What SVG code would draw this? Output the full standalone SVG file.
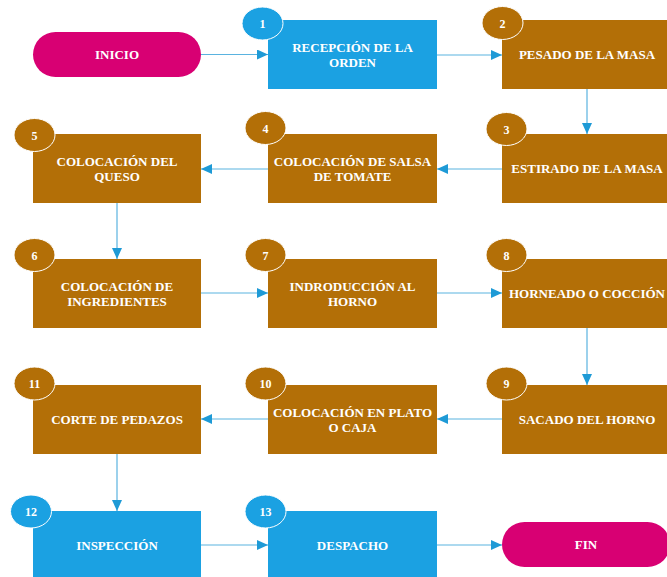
<svg xmlns="http://www.w3.org/2000/svg" width="667" height="577" viewBox="0 0 667 577">
<defs>
<marker id="ah" markerUnits="userSpaceOnUse" markerWidth="11" markerHeight="10" refX="11" refY="5" orient="auto">
<path d="M0,0 L11,5 L0,10 z" fill="#1e9ad6"/>
</marker>
<style>
.blue{fill:#1ba1e2}
.brown{fill:#b36f07}
.pink{fill:#d80073}
.badge{stroke:#ffffff;stroke-width:1}
.t{font-family:"Liberation Serif","Times New Roman",serif;font-weight:bold;font-size:13px;fill:#ffffff;text-anchor:middle}
.n{font-family:"Liberation Serif","Times New Roman",serif;font-weight:bold;font-size:12px;fill:#ffffff;text-anchor:middle}
.c{stroke:#5ab3e0;stroke-width:1.2;fill:none;marker-end:url(#ah)}
</style>
</defs>
<rect width="667" height="577" fill="#ffffff"/>
<g id="connectors">
<line class="c" x1="201" y1="54.5" x2="268" y2="54.5"/>
<line class="c" x1="437" y1="55" x2="502" y2="55"/>
<line class="c" x1="587" y1="89" x2="587" y2="134"/>
<line class="c" x1="502" y1="169" x2="437" y2="169"/>
<line class="c" x1="268" y1="169" x2="201" y2="169"/>
<line class="c" x1="117" y1="202" x2="117" y2="259"/>
<line class="c" x1="201" y1="293" x2="268" y2="293"/>
<line class="c" x1="437" y1="293" x2="502" y2="293"/>
<line class="c" x1="587" y1="328" x2="587" y2="385"/>
<line class="c" x1="502" y1="419" x2="437" y2="419"/>
<line class="c" x1="268" y1="419" x2="201" y2="419"/>
<line class="c" x1="117" y1="454" x2="117" y2="511"/>
<line class="c" x1="201" y1="545" x2="268" y2="545"/>
<line class="c" x1="437" y1="545" x2="502" y2="545"/>
</g>
<g id="inicio">
<rect class="pink" x="33" y="32" width="168" height="45" rx="22.5"/>
<text class="t" x="117" y="59">INICIO</text>
</g>
<g id="n1">
<rect class="blue" x="268" y="20" width="169" height="69"/>
<ellipse class="blue badge" cx="262.5" cy="23.5" rx="20.5" ry="16.5"/>
<text class="n" x="262.5" y="28">1</text>
<text class="t" x="352.5" y="52">RECEPCIÓN DE LA</text>
<text class="t" x="352.5" y="67">ORDEN</text>
</g>
<g id="n2">
<rect class="brown" x="502" y="20" width="170" height="69"/>
<ellipse class="brown badge" cx="502.5" cy="23" rx="20.5" ry="16.5"/>
<text class="n" x="502.5" y="27.5">2</text>
<text class="t" x="587" y="59">PESADO DE LA MASA</text>
</g>
<g id="n3">
<rect class="brown" x="502" y="134" width="170" height="69"/>
<ellipse class="brown badge" cx="506.5" cy="129" rx="20.5" ry="16.5"/>
<text class="n" x="506.5" y="133.5">3</text>
<text class="t" x="587" y="173">ESTIRADO DE LA MASA</text>
</g>
<g id="n4">
<rect class="brown" x="268" y="134" width="169" height="69"/>
<ellipse class="brown badge" cx="265.5" cy="128" rx="20.5" ry="16.5"/>
<text class="n" x="265.5" y="132.5">4</text>
<text class="t" x="352.5" y="166">COLOCACIÓN DE SALSA</text>
<text class="t" x="352.5" y="181">DE TOMATE</text>
</g>
<g id="n5">
<rect class="brown" x="33" y="134" width="168" height="69"/>
<ellipse class="brown badge" cx="34.5" cy="135" rx="20.5" ry="16.5"/>
<text class="n" x="34.5" y="139.5">5</text>
<text class="t" x="117" y="166">COLOCACIÓN DEL</text>
<text class="t" x="117" y="181">QUESO</text>
</g>
<g id="n6">
<rect class="brown" x="33" y="259" width="168" height="69"/>
<ellipse class="brown badge" cx="34.5" cy="255" rx="20.5" ry="16.5"/>
<text class="n" x="34.5" y="259.5">6</text>
<text class="t" x="117" y="291">COLOCACIÓN DE</text>
<text class="t" x="117" y="306">INGREDIENTES</text>
</g>
<g id="n7">
<rect class="brown" x="268" y="259" width="169" height="69"/>
<ellipse class="brown badge" cx="265.5" cy="255" rx="20.5" ry="16.5"/>
<text class="n" x="265.5" y="259.5">7</text>
<text class="t" x="352.5" y="291">INDRODUCCIÓN AL</text>
<text class="t" x="352.5" y="306">HORNO</text>
</g>
<g id="n8">
<rect class="brown" x="502" y="259" width="170" height="69"/>
<ellipse class="brown badge" cx="506.5" cy="255" rx="20.5" ry="16.5"/>
<text class="n" x="506.5" y="259.5">8</text>
<text class="t" x="587" y="298">HORNEADO O COCCIÓN</text>
</g>
<g id="n9">
<rect class="brown" x="502" y="385" width="170" height="69"/>
<ellipse class="brown badge" cx="506.5" cy="383.5" rx="20.5" ry="16.5"/>
<text class="n" x="506.5" y="388">9</text>
<text class="t" x="587" y="424">SACADO DEL HORNO</text>
</g>
<g id="n10">
<rect class="brown" x="268" y="385" width="169" height="69"/>
<ellipse class="brown badge" cx="265.5" cy="383.5" rx="20.5" ry="16.5"/>
<text class="n" x="265.5" y="388">10</text>
<text class="t" x="352.5" y="417">COLOCACIÓN EN PLATO</text>
<text class="t" x="352.5" y="432">O CAJA</text>
</g>
<g id="n11">
<rect class="brown" x="33" y="385" width="168" height="69"/>
<ellipse class="brown badge" cx="34.5" cy="383.5" rx="20.5" ry="16.5"/>
<text class="n" x="34.5" y="388">11</text>
<text class="t" x="117" y="424">CORTE DE PEDAZOS</text>
</g>
<g id="n12">
<rect class="blue" x="33" y="511" width="168" height="70"/>
<ellipse class="blue badge" cx="31" cy="511.5" rx="20.5" ry="16.5"/>
<text class="n" x="31" y="516">12</text>
<text class="t" x="117" y="550">INSPECCIÓN</text>
</g>
<g id="n13">
<rect class="blue" x="268" y="511" width="169" height="70"/>
<ellipse class="blue badge" cx="265.5" cy="511.5" rx="20.5" ry="16.5"/>
<text class="n" x="265.5" y="516">13</text>
<text class="t" x="352.5" y="550">DESPACHO</text>
</g>
<g id="fin">
<rect class="pink" x="502" y="522" width="168" height="45" rx="22.5"/>
<text class="t" x="586" y="549">FIN</text>
</g>
</svg>
